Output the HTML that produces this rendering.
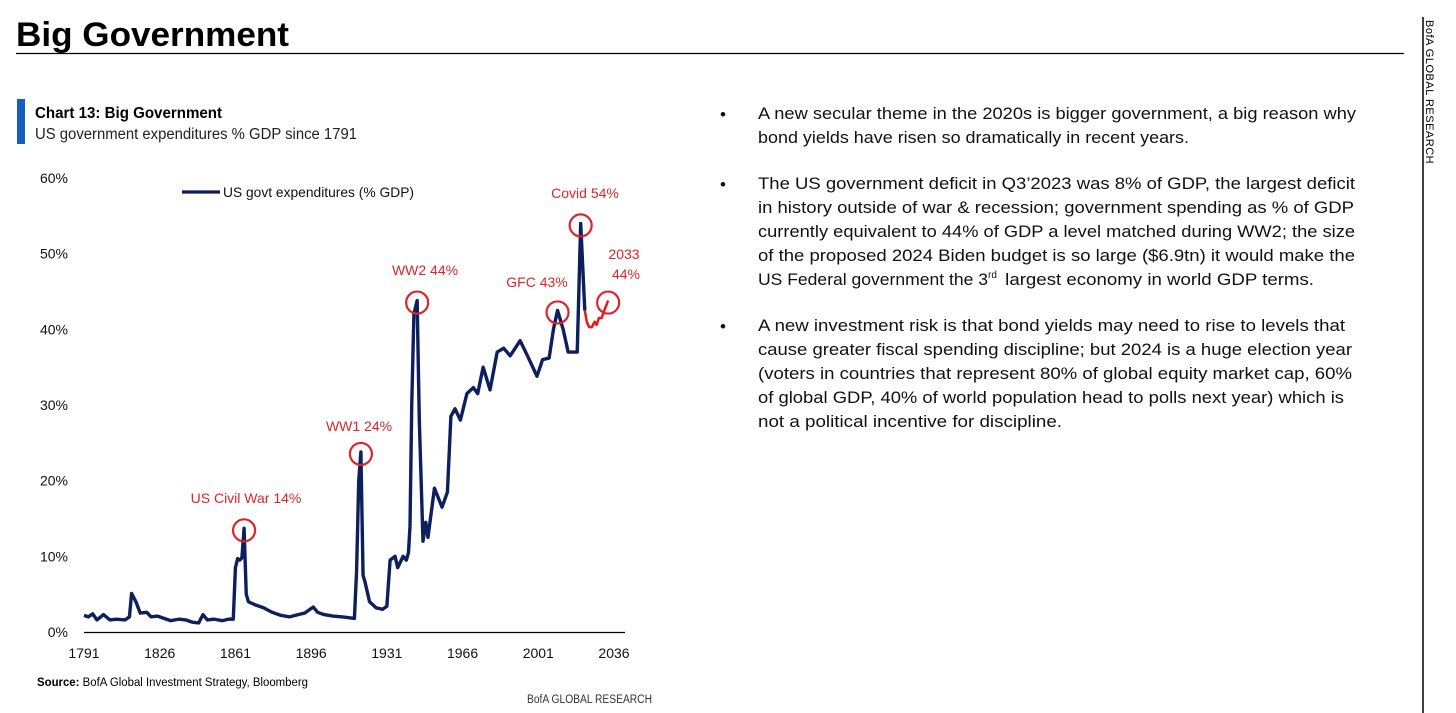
<!DOCTYPE html>
<html><head><meta charset="utf-8"><style>
body{margin:0;width:1456px;height:713px;background:#fff;overflow:hidden;font-family:"Liberation Sans",sans-serif;}
svg{position:absolute;left:0;top:0}
</style></head><body>
<svg width="1456" height="713">
<text x="16" y="46" font-size="34" font-weight="bold" fill="#000" textLength="273" lengthAdjust="spacingAndGlyphs">Big Government</text>
<line x1="16" y1="53.5" x2="1404" y2="53.5" stroke="#000" stroke-width="1.2"/>
<line x1="1423" y1="17" x2="1423" y2="713" stroke="#000" stroke-width="1.5"/>
<text transform="translate(1426,20) rotate(90)" font-size="11" fill="#000" letter-spacing="0.5">BofA GLOBAL RESEARCH</text>
<rect x="17" y="99" width="8" height="45" fill="#1560bd"/>
<text x="35" y="118" font-size="16" font-weight="bold" fill="#000" textLength="187" lengthAdjust="spacingAndGlyphs">Chart 13: Big Government</text>
<text x="35" y="139" font-size="15.5" fill="#222" textLength="322" lengthAdjust="spacingAndGlyphs">US government expenditures % GDP since 1791</text>
<g id="chart"></g>
<text x="37" y="686" font-size="11.5" fill="#000" textLength="271" lengthAdjust="spacingAndGlyphs"><tspan font-weight="bold">Source:</tspan>  BofA Global Investment Strategy, Bloomberg</text>
<text x="527" y="703" font-size="11.5" fill="#333" textLength="125" lengthAdjust="spacingAndGlyphs">BofA GLOBAL RESEARCH</text>
<g font-size="17" fill="#111">
<text x="720" y="120">•</text>
<text x="720" y="190">•</text>
<text x="720" y="332">•</text>
<text x="758" y="119" textLength="598" lengthAdjust="spacingAndGlyphs">A new secular theme in the 2020s is bigger government, a big reason why</text>
<text x="758" y="143" textLength="431" lengthAdjust="spacingAndGlyphs">bond yields have risen so dramatically in recent years.</text>
<text x="758" y="189" textLength="597" lengthAdjust="spacingAndGlyphs">The US government deficit in Q3’2023 was 8% of GDP, the largest deficit</text>
<text x="758" y="213" textLength="596" lengthAdjust="spacingAndGlyphs">in history outside of war &amp; recession; government spending as % of GDP</text>
<text x="758" y="237" textLength="597" lengthAdjust="spacingAndGlyphs">currently equivalent to 44% of GDP a level matched during WW2; the size</text>
<text x="758" y="261" textLength="597" lengthAdjust="spacingAndGlyphs">of the proposed 2024 Biden budget is so large ($6.9tn) it would make the</text>
<text x="758" y="285"><tspan textLength="230" lengthAdjust="spacingAndGlyphs">US Federal government the 3</tspan><tspan font-size="10" dy="-7">rd</tspan><tspan dy="7" textLength="314" lengthAdjust="spacingAndGlyphs" x="1000"> largest economy in world GDP terms.</tspan></text>
<text x="758" y="331" textLength="587" lengthAdjust="spacingAndGlyphs">A new investment risk is that bond yields may need to rise to levels that</text>
<text x="758" y="355" textLength="594" lengthAdjust="spacingAndGlyphs">cause greater fiscal spending discipline; but 2024 is a huge election year</text>
<text x="758" y="379" textLength="594" lengthAdjust="spacingAndGlyphs">(voters in countries that represent 80% of global equity market cap, 60%</text>
<text x="758" y="403" textLength="586" lengthAdjust="spacingAndGlyphs">of global GDP, 40% of world population head to polls next year) which is</text>
<text x="758" y="427" textLength="304" lengthAdjust="spacingAndGlyphs">not a political incentive for discipline.</text>
</g>
</svg>
<script>
const years=[1791,1793,1795,1797,1800,1803,1806,1810,1812,1813,1815,1817,1820,1822,1825,1828,1831,1835,1838,1841,1844,1846,1848,1851,1855,1858,1860,1861,1862,1863,1864,1865,1866,1867,1870,1874,1878,1882,1886,1890,1893,1897,1899,1902,1906,1910,1913,1916,1917,1918,1919,1920,1921,1923,1926,1929,1931,1932.5,1934.8,1936,1938.5,1940,1941,1941.7,1942.5,1943.5,1945,1946,1947.7,1949,1950,1953,1956.5,1959,1960.6,1962.5,1965,1968,1971,1973,1975.5,1978.7,1982,1985,1988,1992.6,1996,2000.4,2003,2006,2008,2009.9,2012.5,2014.8,2019,2020.6,2022.5];
const values=[2.2,2.0,2.4,1.6,2.3,1.6,1.7,1.6,2.0,5.1,4.0,2.5,2.6,2.0,2.1,1.8,1.5,1.7,1.6,1.3,1.2,2.3,1.6,1.7,1.5,1.7,1.7,8.5,9.7,9.5,9.8,13.7,5.0,4.0,3.6,3.2,2.6,2.2,2.0,2.3,2.5,3.3,2.6,2.3,2.1,2.0,1.9,1.8,8,20,23.8,7.5,6.5,4,3.2,3.0,3.4,9.5,10,8.5,10,9.5,10.5,14,30,42,43.8,28,12,14.5,12.5,19,16.5,18.5,28.5,29.5,28,31.5,32.3,31.5,35,32,37,37.5,36.5,38.5,36.5,33.8,36,36.2,40,42.5,40,37,37,54,42.5];
const fYears=[2022.5,2023.4,2024.5,2025.8,2027,2028,2029,2030.3,2031.5,2033.3];
const fValues=[42.5,41,40.3,40.3,41,40.6,41.5,41.5,42.5,43.8];
const yTicks=[0,10,20,30,40,50,60];
const xTicks=[1791,1826,1861,1896,1931,1966,2001,2036];
const notes=[{t:"US Civil War 14%",yr:1865,v:13.7,lx:246,ly:503},{t:"WW1 24%",yr:1919,v:23.8,lx:359,ly:431},{t:"WW2 44%",yr:1945,v:43.8,lx:425,ly:275},{t:"GFC 43%",yr:2009.9,v:42.5,lx:537,ly:287},{t:"Covid 54%",yr:2020.6,v:54,lx:585,ly:198},{t:"2033",yr:2033.3,v:43.8,lx:624,ly:259,t2:"44%"}];
const X=y=>84+(y-1791)*530/245, Y=v=>632-v*454/60;
const NS="http://www.w3.org/2000/svg", g=document.getElementById('chart');
function mk(tag,a){const e=document.createElementNS(NS,tag);for(const k in a)e.setAttribute(k,a[k]);g.appendChild(e);return e;}
yTicks.forEach(t=>{const e=mk('text',{x:68,y:Y(t)+5,'font-size':14,'text-anchor':'end',fill:'#111'});e.textContent=t+'%';

});
xTicks.forEach(t=>{const e=mk('text',{x:X(t),y:658,'font-size':14,'text-anchor':'middle',fill:'#111'});e.textContent=t;

});
const ax=mk('line',{x1:84,y1:632.5,x2:625,y2:632.5,stroke:'#000','stroke-width':1.3});


const ln=mk('polyline',{points:years.map((y,i)=>X(y)+','+Y(values[i])).join(' '),fill:'none',stroke:'#0d1f5c','stroke-width':3.4,'stroke-linejoin':'round'});


const fl=mk('polyline',{points:fYears.map((y,i)=>X(y)+','+Y(fValues[i])).join(' '),fill:'none',stroke:'#e31b1b','stroke-width':2.5,'stroke-linejoin':'round'});


const lg=mk('line',{x1:182,y1:192,x2:220,y2:192,stroke:'#0d1f5c','stroke-width':3.2});


const lt=mk('text',{x:223,y:197,'font-size':14,fill:'#111',textLength:191,lengthAdjust:'spacingAndGlyphs'});lt.textContent='US govt expenditures (% GDP)';


notes.forEach(n=>{const c=mk('circle',{cx:X(n.yr),cy:Y(n.v)+2,r:11,fill:'none',stroke:'#d9262b','stroke-width':2.2});


const t=mk('text',{x:n.lx,y:n.ly,'font-size':14,'text-anchor':'middle',fill:'#d9262b'});t.textContent=n.t;


if(n.t2){const t2=mk('text',{x:n.lx+2,y:n.ly+20,'font-size':14,'text-anchor':'middle',fill:'#d9262b'});t2.textContent=n.t2;

}});
</script>
</body></html>
